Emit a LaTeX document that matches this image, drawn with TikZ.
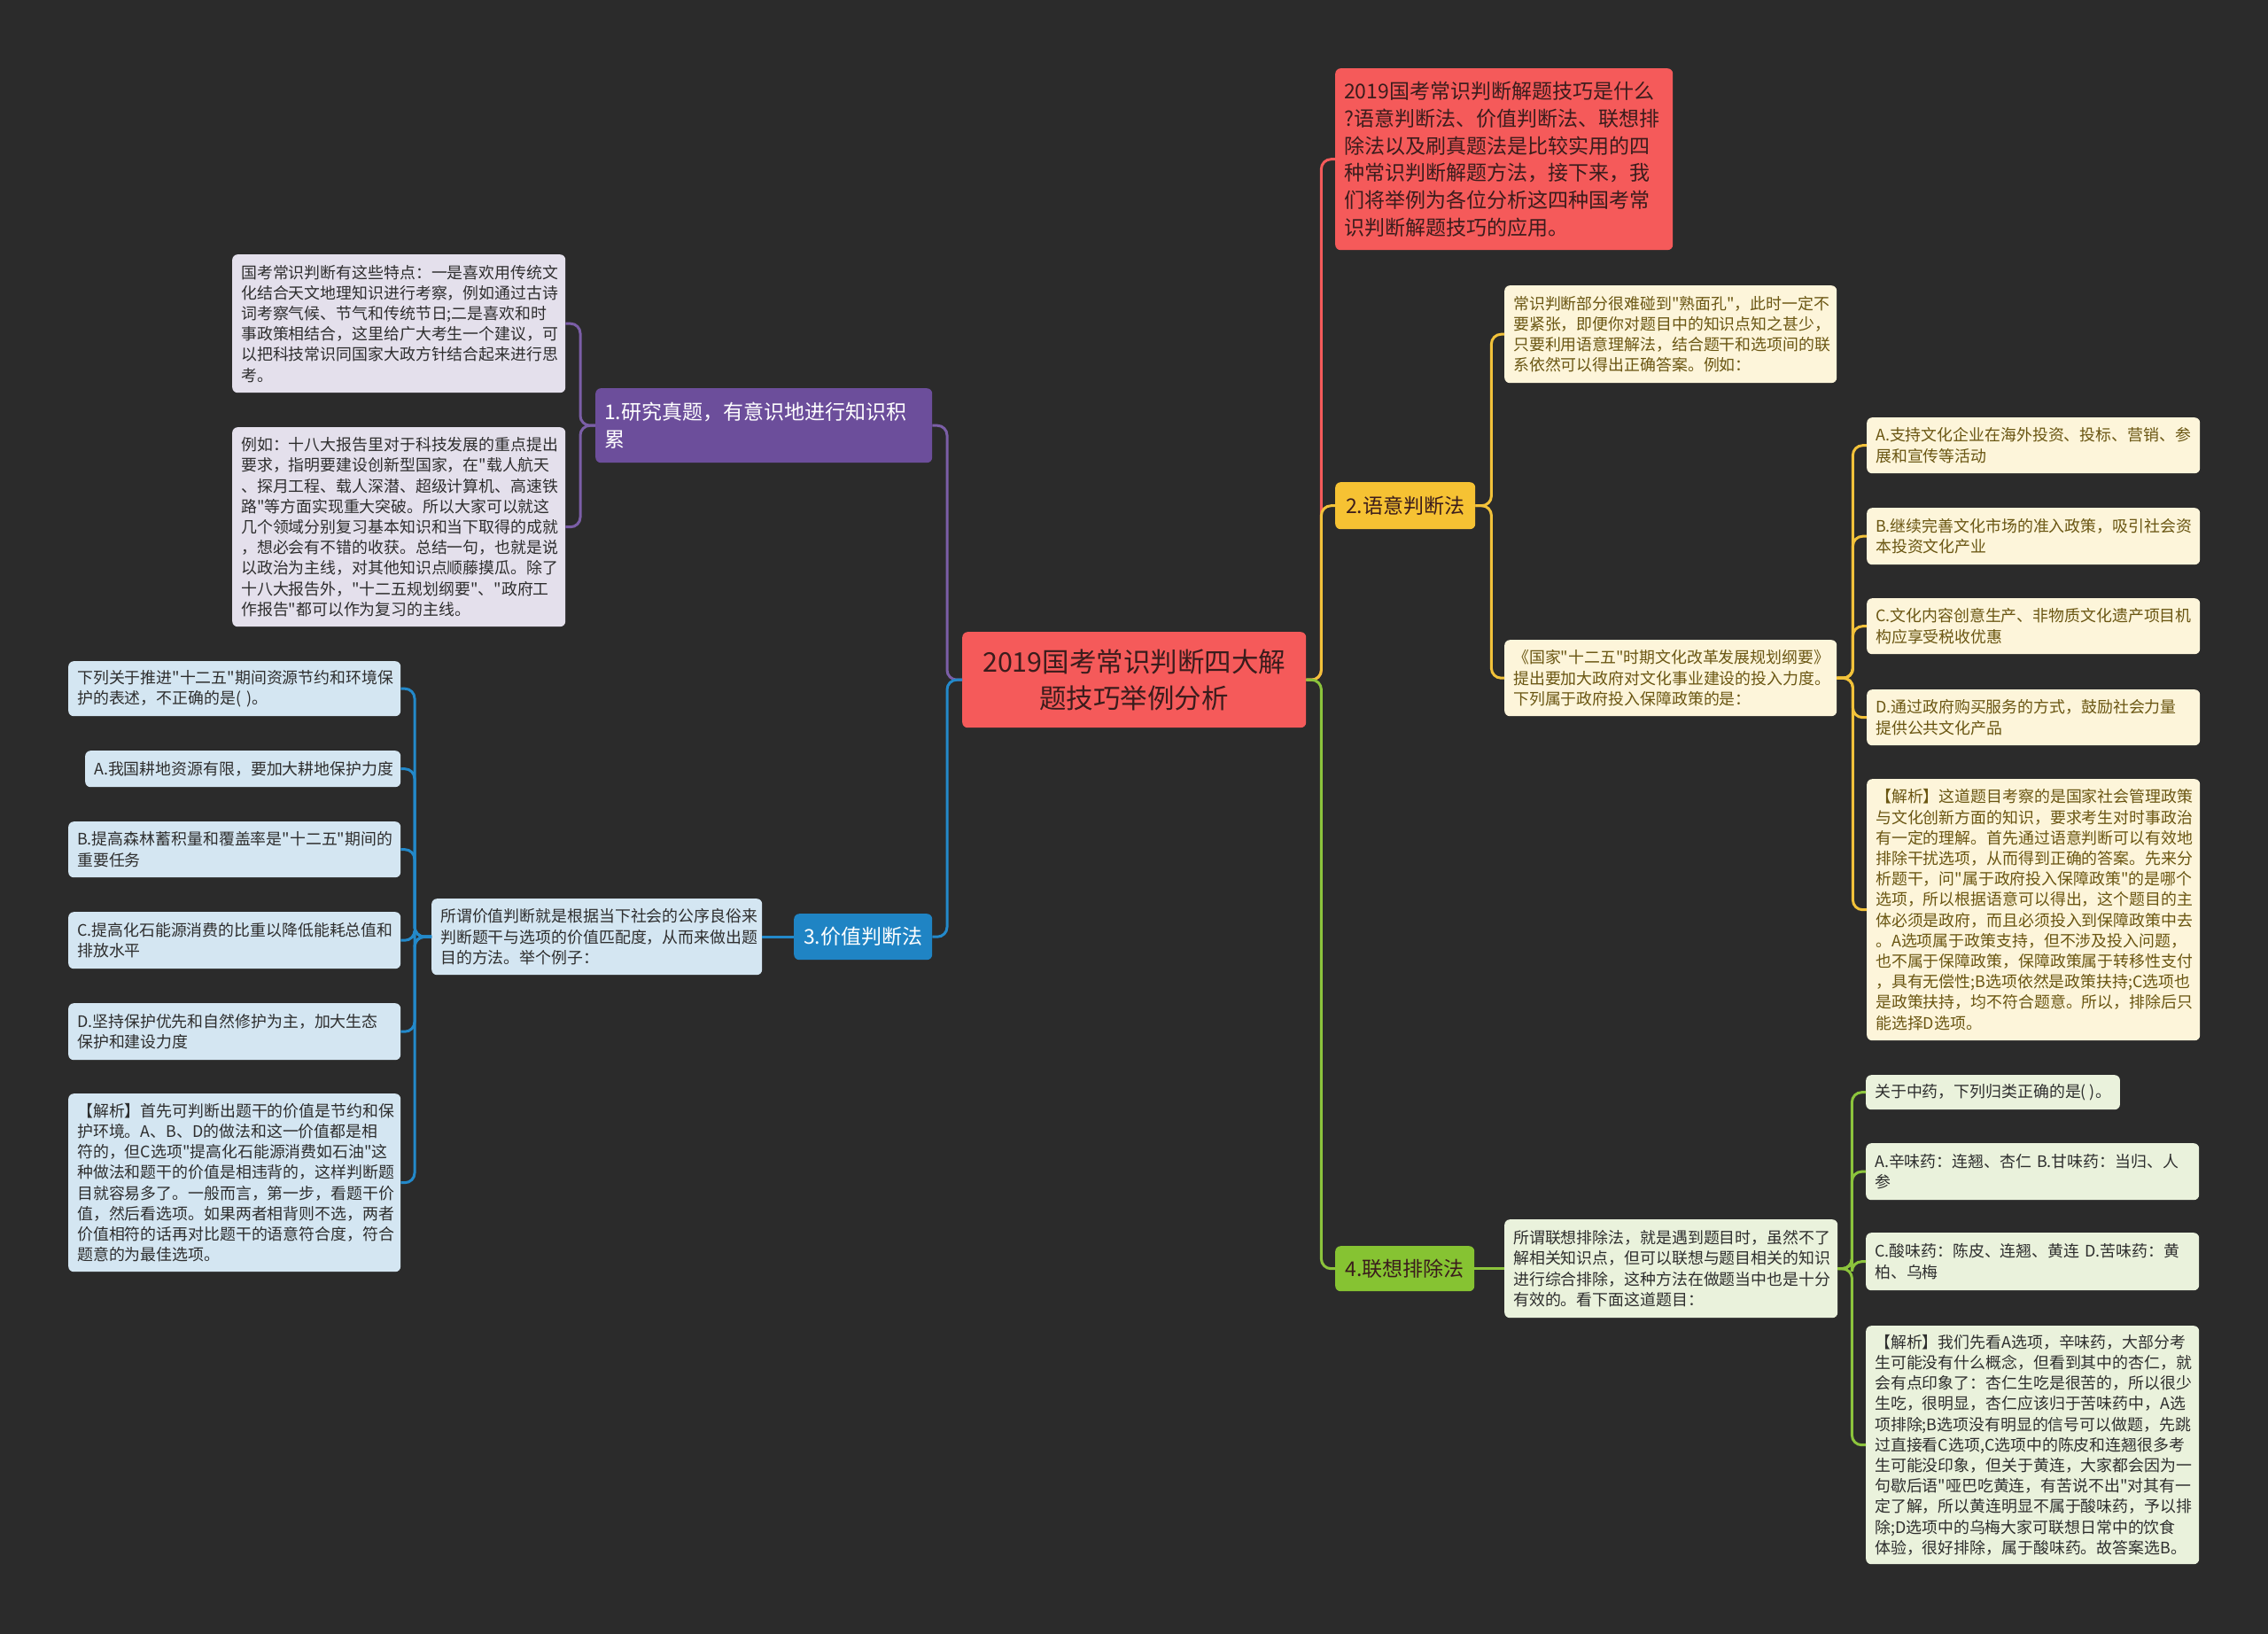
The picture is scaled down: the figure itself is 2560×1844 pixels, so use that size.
\documentclass[tikz,border=0pt]{standalone}
\usepackage{fontspec}
\newfontfamily\cjk{Noto Sans CJK SC}
\definecolor{bg}{HTML}{2B2B2B}
\definecolor{redF}{HTML}{F55A5A}
\definecolor{redT}{HTML}{3A1C1C}
\definecolor{purF}{HTML}{6C4E9B}
\definecolor{purL}{HTML}{7B5EA7}
\definecolor{purC}{HTML}{E4E0EC}
\definecolor{bluF}{HTML}{1F84C4}
\definecolor{bluL}{HTML}{2389CA}
\definecolor{bluC}{HTML}{D4E6F2}
\definecolor{yelF}{HTML}{F6C233}
\definecolor{yelL}{HTML}{F2C23A}
\definecolor{yelC}{HTML}{FDF5DA}
\definecolor{yelT}{HTML}{6A5612}
\definecolor{grnF}{HTML}{86C332}
\definecolor{grnL}{HTML}{8CC43C}
\definecolor{grnC}{HTML}{EAF2DC}
\definecolor{darkT}{HTML}{2E2E2E}
\tikzset{
  box/.style={rounded corners=6pt, inner xsep=10pt, inner ysep=0pt, align=left, anchor=north west,
    font=\cjk\fontsize{17.9}{23.2}\selectfont},
  big/.style={box, font=\cjk\fontsize{23}{31}\selectfont},
  conn/.style={line width=3pt, rounded corners=11pt},
}
\begin{document}
\begin{tikzpicture}[x=1pt,y=-1pt]
\useasboundingbox (0,0) rectangle (2560,1844);
\fill[bg] (0,0) rectangle (2560,1844);

% center
\node[box, fill=redF, text=redT, align=center, minimum width=388, minimum height=108, text width=368,
  font=\cjk\fontsize{30.5}{41}\selectfont] (c) at (1086,713) {2019国考常识判断四大解\\题技巧举例分析};

% right: red intro
\node[big, fill=redF, text=redT, minimum height=205, text width=361, font=\cjk\fontsize{23}{30.7}\selectfont] (r) at (1507,77)
 {2019国考常识判断解题技巧是什么\\?语意判断法、价值判断法、联想排\\除法以及刷真题法是比较实用的四\\种常识判断解题方法，接下来，我\\们将举例为各位分析这四种国考常\\识判断解题技巧的应用。};

% yellow branch
\node[big, fill=yelF, text=redT, minimum height=53, text width=138, align=center] (y) at (1507,544) {2.语意判断法};
\node[box, fill=yelC, text=yelT, minimum height=110, text width=355] (y1) at (1698,322)
 {常识判断部分很难碰到"熟面孔"，此时一定不\\要紧张，即便你对题目中的知识点知之甚少，\\只要利用语意理解法，结合题干和选项间的联\\系依然可以得出正确答案。例如：};
\node[box, fill=yelC, text=yelT, minimum height=86, text width=355] (y2) at (1698,722)
 {《国家"十二五"时期文化改革发展规划纲要》\\提出要加大政府对文化事业建设的投入力度。\\下列属于政府投入保障政策的是：};
\node[box, fill=yelC, text=yelT, minimum height=63, text width=356] (ya) at (2107,471)
 {A.支持文化企业在海外投资、投标、营销、参\\展和宣传等活动};
\node[box, fill=yelC, text=yelT, minimum height=64, text width=356] (yb) at (2107,573)
 {B.继续完善文化市场的准入政策，吸引社会资\\本投资文化产业};
\node[box, fill=yelC, text=yelT, minimum height=63, text width=356] (yc) at (2107,675)
 {C.文化内容创意生产、非物质文化遗产项目机\\构应享受税收优惠};
\node[box, fill=yelC, text=yelT, minimum height=63, text width=356] (yd) at (2107,778)
 {D.通过政府购买服务的方式，鼓励社会力量\\提供公共文化产品};
\node[box, fill=yelC, text=yelT, minimum height=295, text width=356] (ye) at (2107,879)
 {【解析】这道题目考察的是国家社会管理政策\\与文化创新方面的知识，要求考生对时事政治\\有一定的理解。首先通过语意判断可以有效地\\排除干扰选项，从而得到正确的答案。先来分\\析题干，问"属于政府投入保障政策"的是哪个\\选项，所以根据语意可以得出，这个题目的主\\体必须是政府，而且必须投入到保障政策中去\\。A选项属于政策支持，但不涉及投入问题，\\也不属于保障政策，保障政策属于转移性支付\\，具有无偿性;B选项依然是政策扶持;C选项也\\是政策扶持，均不符合题意。所以，排除后只\\能选择D选项。};

% green branch
\node[big, fill=grnF, text=redT, minimum height=51, text width=137, align=center] (g) at (1507,1406) {4.联想排除法};
\node[box, fill=grnC, text=darkT, minimum height=111, text width=356] (g1) at (1698,1376)
 {所谓联想排除法，就是遇到题目时，虽然不了\\解相关知识点，但可以联想与题目相关的知识\\进行综合排除，这种方法在做题当中也是十分\\有效的。看下面这道题目：};
\node[box, fill=grnC, text=darkT, minimum height=39, minimum width=286] (gq) at (2106,1213)
 {关于中药，下列归类正确的是(~)。};
\node[box, fill=grnC, text=darkT, minimum height=64, text width=356] (ga) at (2106,1290)
 {A.辛味药：连翘、杏仁 B.甘味药：当归、人\\参};
\node[box, fill=grnC, text=darkT, minimum height=65, text width=356] (gc) at (2106,1391)
 {C.酸味药：陈皮、连翘、黄连 D.苦味药：黄\\柏、乌梅};
\node[box, fill=grnC, text=darkT, minimum height=269, text width=356] (ge) at (2106,1496)
 {【解析】我们先看A选项，辛味药，大部分考\\生可能没有什么概念，但看到其中的杏仁，就\\会有点印象了：杏仁生吃是很苦的，所以很少\\生吃，很明显，杏仁应该归于苦味药中，A选\\项排除;B选项没有明显的信号可以做题，先跳\\过直接看C选项,C选项中的陈皮和连翘很多考\\生可能没印象，但关于黄连，大家都会因为一\\句歇后语"哑巴吃黄连，有苦说不出"对其有一\\定了解，所以黄连明显不属于酸味药，予以排\\除;D选项中的乌梅大家可联想日常中的饮食\\体验，很好排除，属于酸味药。故答案选B。};

% purple branch
\node[big, fill=purF, text=white, minimum height=84, text width=360] (p) at (672,438)
 {1.研究真题，有意识地进行知识积\\累};
\node[box, fill=purC, text=darkT, minimum height=156, text width=356] (p1) at (262,287)
 {国考常识判断有这些特点：一是喜欢用传统文\\化结合天文地理知识进行考察，例如通过古诗\\词考察气候、节气和传统节日;二是喜欢和时\\事政策相结合，这里给广大考生一个建议，可\\以把科技常识同国家大政方针结合起来进行思\\考。};
\node[box, fill=purC, text=darkT, minimum height=225, text width=356] (p2) at (262,482)
 {例如：十八大报告里对于科技发展的重点提出\\要求，指明要建设创新型国家，在"载人航天\\、探月工程、载人深潜、超级计算机、高速铁\\路"等方面实现重大突破。所以大家可以就这\\几个领域分别复习基本知识和当下取得的成就\\，想必会有不错的收获。总结一句，也就是说\\以政治为主线，对其他知识点顺藤摸瓜。除了\\十八大报告外，"十二五规划纲要"、"政府工\\作报告"都可以作为复习的主线。};

% blue branch
\node[big, fill=bluF, text=white, minimum height=52, text width=136, align=center] (b) at (896,1031) {3.价值判断法};
\node[box, fill=bluC, text=darkT, minimum height=86, text width=353] (b1) at (487,1014)
 {所谓价值判断就是根据当下社会的公序良俗来\\判断题干与选项的价值匹配度，从而来做出题\\目的方法。举个例子：};
\node[box, fill=bluC, text=darkT, minimum height=62, text width=355] (bq) at (77,746)
 {下列关于推进"十二五"期间资源节约和环境保\\护的表述，不正确的是(~)。};
\node[box, fill=bluC, text=darkT, minimum height=41, text width=336] (ba) at (96,847)
 {A.我国耕地资源有限，要加大耕地保护力度};
\node[box, fill=bluC, text=darkT, minimum height=63, text width=355] (bb) at (77,927)
 {B.提高森林蓄积量和覆盖率是"十二五"期间的\\重要任务};
\node[box, fill=bluC, text=darkT, minimum height=64, text width=355] (bc) at (77,1029)
 {C.提高化石能源消费的比重以降低能耗总值和\\排放水平};
\node[box, fill=bluC, text=darkT, minimum height=64, text width=355] (bd) at (77,1132)
 {D.坚持保护优先和自然修护为主，加大生态\\保护和建设力度};
\node[box, fill=bluC, text=darkT, minimum height=201, text width=355] (be) at (77,1234)
 {【解析】首先可判断出题干的价值是节约和保\\护环境。A、B、D的做法和这一价值都是相\\符的，但C选项"提高化石能源消费如石油"这\\种做法和题干的价值是相违背的，这样判断题\\目就容易多了。一般而言，第一步，看题干价\\值，然后看选项。如果两者相背则不选，两者\\价值相符的话再对比题干的语意符合度，符合\\题意的为最佳选项。};

% connectors from center
\draw[conn, redF] (c.east) -- ++(17,0) |- (r.west);
\draw[conn, yelL] (c.east) -- ++(17,0) |- (y.west);
\draw[conn, grnL] (c.east) -- ++(17,0) |- (g.west);
\draw[conn, purL] (c.west) -- ++(-17,0) |- (p.east);
\draw[conn, bluL] (c.west) -- ++(-17,0) |- (b.east);

% yellow
\draw[conn, yelL] (y.east) -- ++(18,0) |- (y1.west);
\draw[conn, yelL] (y.east) -- ++(18,0) |- (y2.west);
\foreach \k in {ya,yb,yc,yd,ye}{\draw[conn, yelL] (y2.east) -- ++(18,0) |- (\k.west);}
% green
\draw[conn, grnL] (g.east) -- (g1.west);
\foreach \k in {gq,ga,gc,ge}{\draw[conn, grnL] (g1.east) -- ++(16,0) |- (\k.west);}
% purple
\foreach \k in {p1,p2}{\draw[conn, purL] (p.west) -- ++(-17,0) |- (\k.east);}
% blue
\draw[conn, bluL] (b.west) -- (b1.east);
\foreach \k in {bq,ba,bb,bc,bd,be}{\draw[conn, bluL] (b1.west) -- ++(-19,0) |- (\k.east);}
\end{tikzpicture}
\end{document}
